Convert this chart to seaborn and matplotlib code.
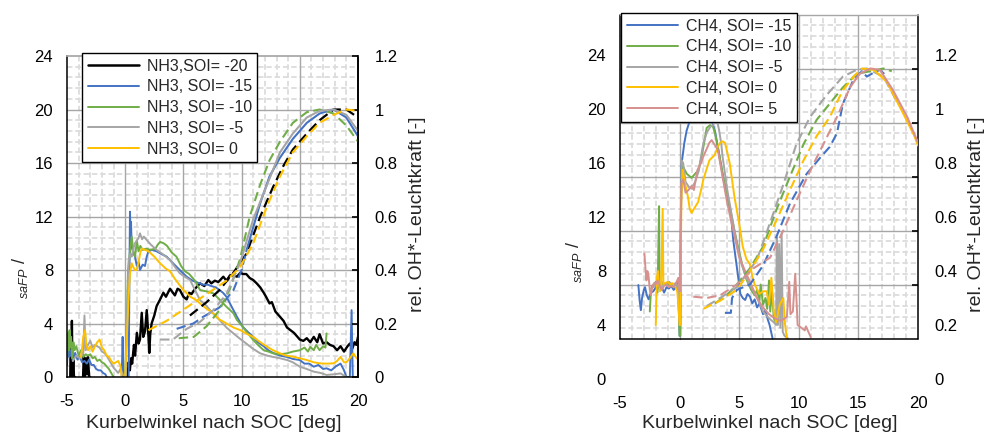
import numpy as np
import pandas as pd
import matplotlib
matplotlib.use("Agg")
import matplotlib.pyplot as plt
import seaborn as sns
from matplotlib.lines import Line2D
from matplotlib.ticker import FixedLocator

nan = np.nan

# ---------------- Left panel: NH3 (solid = saFP, left axis) ----------------
nh3_m20_x = [-4.72, -4.68, -4.62, -4.58, -4.52, -4.46, -4.4, -4.34, nan,
             -3.62, -3.56, -3.48, -3.4, -3.3, -3.2, -3.1, -3.02, nan,
             0.2, 0.3, 0.4, 0.5, 0.6, 0.75, 0.85, 1.0, 1.15, 1.27, 1.42, 1.55, 1.7, 1.85, 2.0, 2.07, 2.15,
             2.27, 2.5, 2.7, 3.0, 3.28, 3.5, 3.85, 4.1, 4.27, 4.5, 4.7, 5.0, 5.28, 5.5, 5.7, 6.0, 6.43,
             6.8, 7.14, 7.4, 7.7, 8.0, 8.43, 8.7, 9.0, 9.3, 9.6, 9.9, 10.1, 10.4, 10.7, 11.0, 11.3, 11.6,
             11.9, 12.1, 12.4, 12.6, 12.9, 13.3, 13.6, 13.9, 14.2, 14.5, 14.8, 15.0, 15.3, 15.6, 15.9,
             16.2, 16.5, 16.7, 17.0, 17.3, 17.6, 17.9, 18.2, 18.5, 18.8, 19.1, 19.3, 19.5, 19.7, 19.85, 20.0]
nh3_m20_y = [0, 2.8, 0.3, 4.2, 0, 1.5, 0, 0, nan,
             0, 1.6, 0, 1.4, 0.2, 1.5, 0, 0, nan,
             0.0, 1.1, 0.5, 1.4, 1.0, 2.4, 1.6, 3.3, 2.5, 2.8, 4.8, 3.0, 3.4, 5.0, 3.0, 1.8, 3.2,
             4.0, 4.6, 5.3, 5.8, 6.3, 6.0, 6.6, 6.3, 6.1, 6.6, 6.5, 6.0, 5.8, 6.3, 6.2, 6.6, 7.0,
             6.8, 7.25, 7.0, 7.2, 7.1, 7.5, 7.2, 7.6, 7.6, 7.5, 7.8, 7.7, 7.7, 7.4, 7.25, 7.0, 6.7,
             6.3, 6.0, 5.5, 5.6, 4.9, 4.5, 4.2, 3.7, 3.5, 3.3, 3.0, 2.8, 2.7, 2.9, 2.6,
             3.0, 2.6, 3.2, 2.5, 2.6, 2.4, 2.3, 2.0, 2.3, 1.9, 2.3, 2.5, 2.1, 2.6, 2.4, 3.0]

nh3_m15_x = [-5.0, -4.95, -4.9, -4.85, -4.8, -4.7, -4.6, -4.5, -4.3, -4.1, -3.9, -3.7, -3.5, -3.3, -3.1,
             -2.9, -2.7, -2.5, -2.3, -2.1, -1.9, -1.7, -1.6, nan,
             -0.3, -0.22, -0.15, nan,
             0.3, 0.35, 0.41, 0.45, 0.5, 0.56, 0.7, 0.84, 1.0, 1.15, 1.27, 1.5, 1.7, 1.85, 2.0, 2.3, 2.7,
             3.1, 3.56, 4.0, 4.4, 4.8, 5.28, 5.8, 6.4, 6.7, 7.1, 7.4, 7.8, 8.1, 8.4, 8.7, 9.0, 9.3, 9.6,
             10.1, 10.5, 11.0, 11.4, 11.9, 12.3, 12.7, 13.3, 13.9, 14.4, 15.0, 15.4, 15.8, 16.2, 16.6,
             17.0, 17.3, 17.7, 18.1, 18.5, 18.8, 19.0, 19.3, 19.45, 19.55]
nh3_m15_y = [0.9, 1.8, 2.8, 2.2, 1.5, 2.0, 1.6, 1.2, 1.8, 1.3, 1.5, 1.1, 1.2, 1.0, 1.3,
             0.9, 0.9, 0.6, 0.5, 0.5, 0.3, 0.2, 0.0, nan,
             0.0, 3.0, 0.0, nan,
             0.0, 6.0, 12.36, 11.0, 11.6, 9.7, 9.3, 9.0, 8.3, 8.6, 8.0, 8.4, 8.3, 9.0, 9.4, 9.5, 9.4,
             9.2, 9.0, 8.6, 8.25, 7.9, 7.5, 7.2, 7.0, 6.9, 6.9, 6.8, 6.7, 6.5, 6.3, 6.0, 5.5, 5.0, 4.5,
             3.75, 3.4, 3.0, 2.6, 2.3, 2.0, 1.8, 1.6, 1.5, 1.35, 1.27, 1.0, 1.0, 0.77, 0.9,
             0.6, 0.65, 0.5, 0.8, 1.0, 0.5, 0.0, 0.0, 5.0, 0.0]

nh3_m10_x = [-5.0, -4.95, -4.9, -4.85, -4.78, -4.72, -4.65, -4.55, -4.45, -4.35, -4.2, -4.0, -3.8,
             -3.6, -3.4, -3.2, -3.0, -2.8, -2.6, -2.4, -2.2, -2.0, -1.8, -1.6, -1.4, -1.2, -1.0, nan,
             0.0, 0.1, 0.25, 0.4, 0.56, 0.7, 0.85, 1.0, 1.15, 1.3, 1.5, 1.8, 2.2, 2.6, 2.8, 3.0, 3.3,
             3.6, 4.0, 4.4, 4.8, 5.14, 5.5, 6.0, 6.43, 7.0, 7.57, 8.1, 8.7, 9.3, 9.6, 10.1, 10.5, 11.0,
             11.4, 11.9, 12.3, 12.7, 13.3, 13.9, 14.4, 15.0, 15.4, 15.7, 15.9, 16.2, 16.4, 16.7, 17.0,
             17.2, 17.3]
nh3_m10_y = [1.2, 2.5, 3.3, 2.0, 3.5, 2.2, 3.0, 1.4, 2.6, 2.0, 2.3, 1.6, 2.0,
             1.5, 1.7, 1.6, 1.7, 1.4, 1.5, 1.2, 1.3, 1.1, 1.0, 0.8, 0.6, 0.3, 0.0, nan,
             0.0, 3.0, 8.0, 9.3, 10.5, 9.4, 9.0, 10.2, 9.4, 9.8, 9.5, 9.6, 9.5, 9.6, 9.9, 10.1, 10.0,
             9.8, 9.3, 9.0, 8.3, 7.9, 7.7, 7.2, 6.5, 6.4, 6.25, 5.8, 5.25, 4.76, 4.26, 3.76, 3.3, 2.77,
             2.4, 2.0, 1.9, 1.77, 1.7, 1.77, 1.9, 2.0, 2.2, 1.9, 2.26, 2.0, 2.4, 2.0, 2.3,
             2.2, 3.26]

nh3_m5_x = [-4.5, -4.2, -3.9, -3.6, -3.5, -3.4, -3.2, -3.0, -2.8, -2.6, -2.4, -2.2, -2.0, -1.8,
            -1.6, -1.4, -1.2, -1.0, -0.8, -0.6, -0.4, -0.2, 0.0, nan,
            0.05, 0.15, 0.3, 0.45, 0.56, 0.7, 0.84, 1.0, 1.15, 1.27, 1.45, 1.6, 1.85, 2.2, 2.7, 3.2,
            3.85, 4.3, 4.7, 5.1, 5.57, 6.0, 6.43, 6.9, 7.3, 7.7, 8.1, 8.7, 9.3, 9.8, 10.4, 11.0, 11.6,
            12.2, 12.7, 13.3, 13.9, 14.4, 15.0, 15.6, 16.2, 16.8, 17.3, 17.9, 18.5, 18.8, 19.0]
nh3_m5_y = [1.2, 1.6, 1.4, 1.8, 4.6, 2.0, 2.4, 2.7, 2.2, 2.4, 2.3, 2.2, 1.9, 1.8,
            1.6, 1.3, 1.0, 0.7, 0.5, 0.3, 0.6, 0.2, 0.0, nan,
            0.0, 4.0, 8.8, 9.2, 9.0, 9.6, 10.0, 10.2, 10.4, 10.74, 10.3, 10.5, 10.24, 9.9, 9.5, 9.2,
            8.75, 8.2, 7.75, 7.5, 7.25, 6.5, 5.75, 5.4, 5.0, 4.6, 4.26, 3.7, 3.26, 2.9, 2.5, 2.1, 1.77,
            1.6, 1.5, 1.4, 1.27, 1.1, 0.77, 0.6, 0.4, 0.3, 0.15, 0.2, 0.27, 0.1, 0.0]

nh3_0_x = [-3.8, -3.7, -3.6, -3.45, -3.35, -3.2, -3.0, -2.8, -2.6, -2.4, -2.2, -2.0, -1.8, -1.6,
           -1.4, -1.2, -1.0, -0.8, -0.6, -0.4, -0.3, nan,
           0.0, 0.13, 0.28, 0.41, 0.56, 0.7, 0.85, 0.99, 1.15, 1.3, 1.42, 1.7, 2.0, 2.5, 3.0, 3.5,
           3.85, 4.3, 5.0, 5.6, 6.0, 6.43, 7.0, 7.57, 8.1, 8.7, 9.3, 9.9, 10.5, 11.0, 11.6, 12.2, 12.7,
           13.3, 13.8, 14.4, 15.0, 15.6, 16.2, 16.7, 17.3, 17.9, 18.2, 18.5, 18.8, 19.0, 19.3, 19.6,
           19.8, 20.0]
nh3_0_y = [1.5, 2.2, 3.0, 3.5, 2.5, 2.0, 2.3, 1.9, 2.3, 2.6, 2.8, 2.2, 2.0, 1.6,
           1.5, 1.2, 1.0, 1.1, 1.2, 0.8, 0.0, nan,
           0.0, 2.77, 5.75, 7.75, 8.5, 8.2, 8.0, 8.0, 8.6, 9.3, 9.6, 9.5, 9.4, 9.0, 8.5, 8.1,
           7.9, 7.3, 6.5, 6.0, 5.8, 5.5, 5.1, 4.76, 4.3, 4.0, 3.7, 3.5, 3.2, 3.0, 2.6, 2.26, 2.0,
           1.77, 1.6, 1.52, 1.4, 1.27, 1.1, 1.02, 1.0, 1.02, 1.2, 1.5, 1.1, 1.1, 1.4, 1.77,
           1.5, 1.3]

# ---------------- Left panel: NH3 OH* (dashed, right axis) ----------------
oh_nh3_m20_x = [5.56, 7.0, 8.1, 9.3, 10.4, 11.6, 12.7, 13.6, 14.4, 15.6, 16.7, 17.9, 19.0, 20.0]
oh_nh3_m20_y = [0.23, 0.28, 0.325, 0.39, 0.46, 0.6, 0.71, 0.79, 0.85, 0.91, 0.96, 1.0, 1.0, 0.97]
oh_nh3_m15_x = [4.42, 5.85, 6.7, 8.1, 9.3, 10.0, 10.4, 11.0, 11.6, 12.4, 13.3, 14.4, 15.6, 16.7, 17.9, 19.0, 20.0]
oh_nh3_m15_y = [0.18, 0.2, 0.225, 0.26, 0.325, 0.4, 0.47, 0.56, 0.65, 0.75, 0.82, 0.89, 0.95, 0.985, 1.0, 0.97, 0.9]
oh_nh3_m10_x = [4.6, 5.9, 7.0, 8.1, 9.0, 9.86, 10.7, 11.6, 12.4, 13.3, 14.4, 15.6, 16.7, 17.9, 19.0, 20.0]
oh_nh3_m10_y = [0.145, 0.15, 0.19, 0.25, 0.33, 0.44, 0.6, 0.72, 0.81, 0.88, 0.95, 0.99, 1.0, 0.985, 0.94, 0.88]
oh_nh3_m5_x = [3.0, 4.1, 5.28, 6.4, 7.57, 8.7, 9.86, 11.0, 12.2, 13.3, 14.4, 15.6, 16.7, 17.9, 19.0, 20.0]
oh_nh3_m5_y = [0.14, 0.14, 0.18, 0.205, 0.25, 0.31, 0.425, 0.59, 0.72, 0.84, 0.91, 0.97, 0.995, 1.0, 0.98, 0.92]
oh_nh3_0_x = [1.99, 3.56, 5.28, 7.0, 8.7, 9.86, 11.0, 12.2, 13.3, 14.4, 15.6, 16.7, 17.9, 19.0, 20.0]
oh_nh3_0_y = [0.175, 0.21, 0.26, 0.31, 0.36, 0.41, 0.50, 0.64, 0.75, 0.84, 0.90, 0.95, 0.98, 1.0, 0.995]

# ---------------- Right panel: CH4 (solid = saFP, left axis) ----------------
ch4_m15_x = [-3.46, -3.35, -3.25, -3.15, -3.0, -2.9, -2.75, -2.6, -2.4, -2.2, -2.0, -1.9, -1.7, -1.5,
             -1.3, -1.1, -0.9, -0.7, -0.5, -0.3, -0.1, 0.0, nan,
             0.05, 0.13, 0.4, 0.59, 0.7, 0.87, 1.15, 1.5, 1.8, 2.1, 2.4, 2.7, 3.0, 3.2, 3.4, 3.8, 4.3,
             4.5, 4.8, 5.1, 5.3, 5.5, 5.7, 5.9, 6.1, 6.3, 6.5, 6.7, 7.0, 7.2, 7.4, 7.55, 7.7, 7.8]
ch4_m15_y = [6.96, 5.8, 5.1, 6.0, 6.6, 6.8, 6.2, 5.9, 6.4, 6.5, 6.8, 6.6, 7.0, 6.8,
             6.4, 6.8, 6.7, 6.9, 6.6, 6.8, 6.4, 3.2, nan,
             3.2, 15.7, 17.5, 18.4, 18.7, 19.2, 19.5, 19.8, 20.1, 20.3, 20.2, 19.2, 18.2, 17.2, 16.2, 14.2, 12.3,
             10.3, 8.3, 6.3, 6.0, 5.85, 6.3, 6.1, 5.6, 5.9, 5.3, 5.6, 4.8, 5.1, 4.4, 4.0, 3.4, 3.0]

ch4_m10_x = [-2.5, -2.4, -2.3, -2.15, -2.0, -1.85, -1.72, -1.68, -1.6, -1.4, -1.2, -1.0, -0.8, -0.6,
             -0.4, -0.2, -0.1, 0.0, nan,
             0.05, 0.1, 0.2, 0.31, 0.6, 1.0, 1.3, 1.6, 1.8, 2.0, 2.27, 2.55, 2.8, 3.0, 3.25, 3.65, 4.2,
             4.6, 4.9, 5.3, 5.6, 5.8, 6.0, 6.3, 6.5, 6.7, 6.8, 7.0, 7.2, 7.35, 7.5, 7.6, 7.75, 7.9, 8.0]
ch4_m10_y = [5.0, 6.6, 6.9, 7.0, 7.2, 6.4, 12.8, 7.0, 6.9, 7.1, 7.0, 7.1, 6.9, 7.0,
             6.8, 7.2, 6.0, 3.2, nan,
             3.2, 12.0, 15.8, 15.7, 15.2, 14.9, 15.2, 15.5, 16.3, 17.2, 18.6, 18.8, 18.7, 18.1, 17.0, 15.0, 12.8,
             11.0, 9.8, 8.3, 7.4, 7.0, 6.6, 6.2, 6.6, 5.8, 7.0, 5.5, 6.0, 5.2, 7.3, 5.0, 6.5, 4.5, 4.3]

ch4_m5_x = [-2.2, -2.0, -1.8, -1.5, -1.2, -0.9, -0.6, -0.3, -0.1, 0.0, nan,
            0.05, 0.15, 0.3, 0.5, 0.8, 1.0, 1.3, 1.6, 1.8, 2.0, 2.3, 2.6, 2.8, 3.1, 3.3, 3.5, 3.6, 4.0,
            4.4, 4.8, 5.2, 5.6, 6.0, 6.5, 7.0, 7.5, 7.9, 8.1, 8.15, 8.25, 8.35, 8.45, 8.56, 8.65, 8.8, 9.1]
ch4_m5_y = [6.8, 7.1, 6.9, 7.2, 7.0, 7.2, 7.0, 7.1, 6.6, 4.0, nan,
            4.0, 16.2, 16.0, 14.6, 14.2, 14.1, 14.6, 15.4, 16.5, 17.5, 18.3, 18.7, 18.8, 19.3, 18.5, 17.4, 16.5, 14.0,
            12.0, 10.0, 8.5, 7.5, 6.8, 6.0, 5.0, 4.5, 4.2, 4.0, 10.5, 4.0, 10.0, 3.8, 10.8, 3.5, 3.2, 3.0]

ch4_0_x = [-2.0, -1.95, -1.9, -1.82, -1.75, -1.65, -1.55, -1.42, -1.36, -1.2, -1.0, -0.8, -0.6, -0.4,
           -0.2, -0.1, 0.0, nan,
           0.05, 0.15, 0.26, 0.45, 0.7, 0.85, 1.0, 1.2, 1.55, 1.8, 2.0, 2.5, 2.95, 3.2, 3.4, 3.6, 3.8,
           4.0, 4.2, 4.6, 5.0, 5.3, 5.6, 5.9, 6.1, 6.3, 6.7, 7.0, 7.3, 7.5, 7.7, 7.9, 8.1, 8.4, 8.7,
           8.85, 9.0]
ch4_0_y = [4.0, 6.0, 7.5, 8.0, 7.2, 6.5, 7.0, 12.6, 7.0, 7.1, 7.2, 7.0, 7.1, 6.9,
           6.5, 5.5, 4.0, nan,
           4.0, 13.5, 15.5, 14.5, 13.5, 12.6, 12.3, 12.6, 13.1, 14.0, 14.8, 16.2, 16.6, 17.2, 17.5, 17.6, 17.5,
           16.8, 16.0, 13.5, 11.5, 9.8, 8.9, 8.5, 7.6, 7.0, 6.3, 6.5, 6.5, 5.5, 7.5, 5.0, 4.2, 5.5, 6.0,
           4.0, 3.0]

ch4_5_x = [-2.95, -2.85, -2.78, -2.7, -2.6, -2.5, -2.4, -2.3, -2.15, -2.0, -1.85, -1.7, -1.5, -1.3,
           -1.1, -0.9, -0.7, -0.5, -0.3, -0.1, 0.0, nan,
           0.05, 0.15, 0.3, 0.5, 0.75, 1.0, 1.2, 1.5, 1.8, 2.0, 2.3, 2.5, 2.69, 2.9, 3.2, 3.6, 4.0,
           4.5, 5.0, 5.5, 6.0, 6.5, 7.0, 7.5, 8.0, 8.5, 9.0, 9.2, 9.3, 9.5, 9.7, 9.8, 9.9, 10.2, 10.5,
           10.6, 10.8, 11.0]
ch4_5_y = [9.3, 8.0, 7.3, 8.0, 7.6, 6.6, 6.2, 6.8, 7.1, 7.0, 7.3, 7.0, 6.6, 6.9,
           7.0, 6.8, 6.9, 6.8, 7.1, 7.5, 6.5, nan,
           6.5, 14.5, 14.8, 13.8, 14.0, 14.3, 14.0, 15.5, 16.0, 16.5, 17.1, 17.5, 17.7, 17.4, 17.0, 15.0, 13.0,
           11.0, 9.0, 8.0, 7.0, 6.0, 5.3, 4.8, 4.5, 4.3, 4.6, 7.2, 4.8, 5.0, 7.8, 6.0, 4.0, 3.8, 3.6,
           3.9, 3.5, 3.1]

# ---------------- Right panel: CH4 OH* (dashed, right axis) ----------------
oh_ch4_m15_x = [3.8, 4.3, 4.4, 4.8, 5.9, 7.0, 8.15, 9.26, 10.66, 11.8, 12.6, 13.2, 13.7, 14.6, 15.3, 15.7, 16.3, 16.8, 17.4]
oh_ch4_m15_y = [0.245, 0.245, 0.3, 0.33, 0.35, 0.42, 0.53, 0.65, 0.76, 0.82, 0.86, 0.91, 1.02, 1.11, 1.14, 1.12, 1.135, 1.145, 1.12]
oh_ch4_m10_x = [2.97, 3.95, 4.8, 5.9, 7.0, 8.15, 9.26, 10.4, 11.5, 12.6, 13.7, 14.85, 16.0, 17.1, 17.8]
oh_ch4_m10_y = [0.28, 0.31, 0.35, 0.41, 0.49, 0.63, 0.75, 0.87, 0.96, 1.02, 1.08, 1.13, 1.14, 1.15, 1.14]
oh_ch4_m5_x = [2.27, 3.4, 4.8, 6.47, 7.6, 8.7, 9.8, 10.94, 12.3, 13.7, 14.85, 15.7, 17.1, 18.2]
oh_ch4_m5_y = [0.27, 0.3, 0.34, 0.44, 0.58, 0.72, 0.87, 0.97, 1.05, 1.12, 1.145, 1.15, 1.12, 1.03]
oh_ch4_0_x = [1.99, 3.4, 4.8, 5.9, 7.0, 8.15, 9.26, 10.4, 11.5, 12.6, 13.7, 14.6, 15.3, 16.3, 17.4, 18.8, 19.7, 20.0]
oh_ch4_0_y = [0.26, 0.29, 0.33, 0.40, 0.48, 0.59, 0.70, 0.81, 0.90, 0.97, 1.07, 1.12, 1.15, 1.145, 1.1, 0.98, 0.9, 0.865]
oh_ch4_5_x = [1.15, 2.27, 3.4, 4.8, 6.2, 7.6, 8.7, 9.8, 10.94, 12.06, 13.2, 14.3, 15.1, 16.0, 16.8, 17.9, 19.1, 20.0]
oh_ch4_5_y = [0.305, 0.3, 0.31, 0.35, 0.41, 0.45, 0.55, 0.66, 0.77, 0.87, 0.97, 1.08, 1.13, 1.15, 1.145, 1.07, 0.97, 0.875]

nh3_labels = ["NH3,SOI= -20", "NH3, SOI= -15", "NH3, SOI= -10", "NH3, SOI= -5", "NH3, SOI= 0"]
ch4_labels = ["CH4, SOI= -15", "CH4, SOI= -10", "CH4, SOI= -5", "CH4, SOI= 0", "CH4, SOI= 5"]
x_ticks = [-5, 0, 5, 10, 15, 20]
y_ticks = [0, 4, 8, 12, 16, 20, 24]
y2_ticks = [0, 0.2, 0.4, 0.6, 0.8, 1, 1.2]
y2_ticklabels = ["0", "0.2", "0.4", "0.6", "0.8", "1", "1.2"]

BLACK, BLUE, GREEN, GRAY, YELLOW, PINK = "#000000", "#4472C4", "#70AD47", "#A5A5A5", "#FFC000", "#D6918F"

sns.set_theme(style="white")
plt.rcParams["font.family"] = ["Liberation Sans", "DejaVu Sans"]
plt.rcParams["axes.unicode_minus"] = False
plt.rcParams["mathtext.fontset"] = "custom"
plt.rcParams["mathtext.it"] = "Liberation Sans:italic"
plt.rcParams["mathtext.rm"] = "Liberation Sans"

W, H = 987, 433
fig = plt.figure(figsize=(W / 100, H / 100), dpi=100)
fig.patch.set_facecolor("white")

TICK_FS = 12
LEG_FS = 11.5


def fax(l, t, r, b):
    return fig.add_axes([l / W, 1 - b / H, (r - l) / W, (b - t) / H])


DASH = (0, (4.5, 2.2))


def draw(ax, xs, ys, color, lw, ls="-", solid_from=None):
    x = np.asarray(xs, float)
    y = np.asarray(ys, float)
    seg = np.cumsum(np.isnan(x))
    df = pd.DataFrame({"x": x, "y": y, "seg": seg}).dropna()
    if solid_from is None:
        sns.lineplot(data=df, x="x", y="y", units="seg", estimator=None, sort=False,
                     ax=ax, color=color, linewidth=lw, linestyle=ls, legend=False)
    else:
        d1 = df[df.x <= solid_from]
        d2 = df[df.x >= solid_from]
        sns.lineplot(data=d1, x="x", y="y", units="seg", estimator=None, sort=False,
                     ax=ax, color=color, linewidth=lw, linestyle=ls, legend=False)
        sns.lineplot(data=d2, x="x", y="y", units="seg", estimator=None, sort=False,
                     ax=ax, color=color, linewidth=lw, linestyle="-", legend=False)
    ax.set_xlabel("")
    ax.set_ylabel("")


def grid(ax, ylo, yhi, major_y, minor_y):
    mc, nc = "#A6A6A6", "#DCDCDC"
    for xv in range(-4, 20):
        if xv % 5 != 0:
            ax.plot([xv, xv], [ylo, yhi], color=nc, lw=1.3, ls=(0, (3, 1.6)), zorder=0.5)
    for yv in minor_y:
        ax.plot([-5, 20], [yv, yv], color=nc, lw=1.3, ls=(0, (3, 1.6)), zorder=0.5)
    for xv in [0, 5, 10, 15]:
        ax.plot([xv, xv], [ylo, yhi], color=mc, lw=1.0, zorder=0.6)
    for yv in major_y:
        ax.plot([-5, 20], [yv, yv], color=mc, lw=1.0, zorder=0.6)


# =================== LEFT PANEL ===================
axL = fax(67, 56, 358, 377)
axL.set_xlim(-5, 20)
axL.set_ylim(0, 24)
minorL = [round(k * 0.8, 2) for k in range(1, 30) if k % 5 != 0]
grid(axL, 0, 24, [4, 8, 12, 16, 20], minorL)

for xs, ys, c, lw in [(nh3_m20_x, nh3_m20_y, BLACK, 1.7), (nh3_m15_x, nh3_m15_y, BLUE, 1.4),
                      (nh3_m10_x, nh3_m10_y, GREEN, 1.4), (nh3_m5_x, nh3_m5_y, GRAY, 1.4),
                      (nh3_0_x, nh3_0_y, YELLOW, 1.4)]:
    draw(axL, xs, ys, c, lw)

axL.set_xticks(x_ticks)
axL.set_yticks(y_ticks)
axL.tick_params(axis="y", length=0, labelsize=TICK_FS, pad=10, colors="black")
axL.tick_params(axis="x", length=0, labelsize=TICK_FS, pad=12, colors="black")
for s in ["left", "bottom"]:
    axL.spines[s].set_color("black")
    axL.spines[s].set_linewidth(1.1)
axL.spines["top"].set_color("#A6A6A6")
axL.spines["right"].set_color("black")

axL2 = axL.twinx()
axL2.set_ylim(0, 1.2)
for xs, ys, c, sf in [(oh_nh3_m20_x, oh_nh3_m20_y, BLACK, None), (oh_nh3_m15_x, oh_nh3_m15_y, BLUE, 10.4),
                      (oh_nh3_m10_x, oh_nh3_m10_y, GREEN, None), (oh_nh3_m5_x, oh_nh3_m5_y, GRAY, 9.86),
                      (oh_nh3_0_x, oh_nh3_0_y, YELLOW, None)]:
    draw(axL2, xs, ys, c, 1.6 if c == BLACK else 1.5, ls=DASH, solid_from=sf)
axL2.set_xlim(-5, 20)
axL2.set_ylim(0, 1.2)
axL2.set_yticks(y2_ticks)
axL2.set_yticklabels(y2_ticklabels)
axL2.tick_params(axis="y", direction="in", length=4, width=1.2, labelsize=TICK_FS, pad=12, colors="black")
for s in axL2.spines.values():
    s.set_visible(False)
axL2.spines["right"].set_visible(True)
axL2.spines["right"].set_color("black")
axL2.spines["right"].set_linewidth(1.1)

hL = [Line2D([], [], color=c, lw=(1.8 if c == BLACK else 1.4)) for c in [BLACK, BLUE, GREEN, GRAY, YELLOW]]
legL = axL2.legend(hL, nh3_labels, loc="upper left", bbox_to_anchor=(82 / W, 1 - 53 / H),
                   bbox_transform=fig.transFigure, borderaxespad=0, fontsize=LEG_FS, frameon=True,
                   fancybox=False, framealpha=1, edgecolor="black", handlelength=3.2,
                   handletextpad=0.5, labelspacing=0.36, borderpad=0.35)
legL.get_frame().set_linewidth(1.0)
legL.set_zorder(10)

fig.text(214 / W, 1 - 423 / H, "Kurbelwinkel nach SOC [deg]", ha="center", va="center", fontsize=14)
fig.text(418 / W, 1 - 214 / H, "rel. OH*-Leuchtkraft [-]", ha="center", va="center", fontsize=14, rotation=90)
fig.text(20 / W, 1 - 278 / H, r"$_{saFP}$ /", ha="center", va="center", fontsize=13, rotation=90)

# =================== RIGHT PANEL ===================
axR = fax(620, 14.5, 918, 379)
axR.set_xlim(-5, 20)
axR.set_ylim(0, 27)
minorR = [round(3 + k * 0.8, 2) for k in range(1, 30) if k % 5 != 0]
grid(axR, 3, 27, [7, 11, 15, 19, 23], minorR)

for xs, ys, c in [(ch4_m15_x, ch4_m15_y, BLUE), (ch4_m10_x, ch4_m10_y, GREEN), (ch4_m5_x, ch4_m5_y, GRAY),
                  (ch4_0_x, ch4_0_y, YELLOW), (ch4_5_x, ch4_5_y, PINK)]:
    draw(axR, xs, ys, c, 1.4)

for s in axR.spines.values():
    s.set_visible(False)
axR.plot([-5, 20], [3, 3], color="black", lw=1.1, clip_on=False, zorder=3)
axR.plot([-5, -5], [3, 27], color="black", lw=1.1, clip_on=False, zorder=3)
axR.plot([20, 20], [3, 27], color="black", lw=1.1, clip_on=False, zorder=3)
axR.plot([-5, 20], [27, 27], color="#A6A6A6", lw=1.0, clip_on=False, zorder=3)
axR.set_xticks(x_ticks)
axR.set_yticks(y_ticks)
axR.tick_params(axis="y", length=0, labelsize=TICK_FS, pad=10, colors="black")
axR.tick_params(axis="x", length=0, labelsize=TICK_FS, pad=12, colors="black")

axR2 = axR.twinx()
for xs, ys, c, sf in [(oh_ch4_m15_x, oh_ch4_m15_y, BLUE, None), (oh_ch4_m10_x, oh_ch4_m10_y, GREEN, None),
                      (oh_ch4_m5_x, oh_ch4_m5_y, GRAY, None), (oh_ch4_0_x, oh_ch4_0_y, YELLOW, 15.3),
                      (oh_ch4_5_x, oh_ch4_5_y, PINK, 14.3)]:
    draw(axR2, xs, ys, c, 1.5, ls=DASH, solid_from=sf)
axR2.set_xlim(-5, 20)
axR2.set_ylim(0, 27 / 20)
axR2.set_yticks(y2_ticks)
axR2.set_yticklabels(y2_ticklabels)
axR2.yaxis.set_minor_locator(FixedLocator([7 / 20, 11 / 20, 15 / 20, 19 / 20, 23 / 20]))
axR2.tick_params(axis="y", which="major", length=0, labelsize=TICK_FS, pad=12, colors="black")
axR2.tick_params(axis="y", which="minor", direction="in", length=4, width=1.2, colors="black")
for s in axR2.spines.values():
    s.set_visible(False)

hR = [Line2D([], [], color=c, lw=1.4) for c in [BLUE, GREEN, GRAY, YELLOW, PINK]]
legR = axR2.legend(hR, ch4_labels, loc="upper left", bbox_to_anchor=(621 / W, 1 - 13 / H),
                   bbox_transform=fig.transFigure, borderaxespad=0, fontsize=LEG_FS, frameon=True,
                   fancybox=False, framealpha=1, edgecolor="black", handlelength=3.2,
                   handletextpad=0.5, labelspacing=0.36, borderpad=0.35)
legR.get_frame().set_linewidth(1.0)
legR.set_zorder(10)

fig.text(770 / W, 1 - 423 / H, "Kurbelwinkel nach SOC [deg]", ha="center", va="center", fontsize=14)
fig.text(977 / W, 1 - 214 / H, "rel. OH*-Leuchtkraft [-]", ha="center", va="center", fontsize=14, rotation=90)
fig.text(574 / W, 1 - 262 / H, r"$_{saFP}$ /", ha="center", va="center", fontsize=13, rotation=90)

fig.savefig("out.png", dpi=100, facecolor="white")
